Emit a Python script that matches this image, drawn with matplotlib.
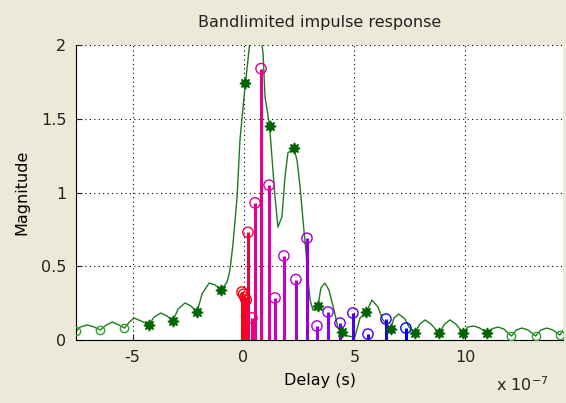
import matplotlib
matplotlib.use("Agg")
import matplotlib.pyplot as plt

# delay in units of 1e-7 s
curve_t = [-7.545, -7.36, -7.05, -6.73, -6.455, -6.20, -5.92, -5.65, -5.365, -5.15,
           -4.93, -4.62, -4.275, -4.03, -3.72, -3.45, -3.185, -2.95, -2.64, -2.37,
           -2.095, -1.87, -1.55, -1.28, -1.005, -0.74, -0.61, -0.47, -0.29, -0.16,
           -0.02, 0.085, 0.20, 0.28, 0.52, 0.83, 0.88, 0.97, 1.175, 1.28,
           1.42, 1.55, 1.73, 1.87, 2.00, 2.265, 2.41, 2.55, 2.68, 2.82,
           2.91, 3.00, 3.13, 3.355, 3.49, 3.67, 3.85, 4.08, 4.26, 4.445,
           4.70, 5.02, 5.25, 5.535, 5.79, 6.06, 6.28, 6.625, 6.78, 7.00,
           7.28, 7.46, 7.715, 7.95, 8.18, 8.45, 8.805, 9.07, 9.30, 9.57,
           9.895, 10.11, 10.38, 10.65, 10.985, 11.19, 11.46, 11.73, 12.075, 12.30,
           12.55, 12.82, 13.165, 13.40, 13.67, 13.94, 14.255, 14.45]
curve_y = [0.061, 0.088, 0.102, 0.088, 0.068, 0.100, 0.122, 0.105, 0.081, 0.121,
           0.149, 0.129, 0.102, 0.156, 0.183, 0.163, 0.129, 0.210, 0.251, 0.231,
           0.190, 0.312, 0.386, 0.373, 0.339, 0.393, 0.475, 0.658, 0.969, 1.356,
           1.58, 1.742, 1.898, 2.014, 2.16, 2.00, 1.946, 1.647, 1.451, 1.241,
           0.969, 0.766, 0.834, 1.105, 1.268, 1.302, 1.220, 1.037, 0.814, 0.590,
           0.407, 0.271, 0.203, 0.231, 0.353, 0.386, 0.339, 0.203, 0.081, 0.054,
           0.027, 0.020, 0.149, 0.190, 0.271, 0.224, 0.136, 0.075, 0.149, 0.176,
           0.142, 0.088, 0.047, 0.108, 0.136, 0.108, 0.047, 0.108, 0.136, 0.108,
           0.047, 0.088, 0.095, 0.081, 0.047, 0.075, 0.088, 0.075, 0.027, 0.068,
           0.081, 0.068, 0.027, 0.068, 0.081, 0.068, 0.034, 0.075]

# samples on the curve
sample_t = [-7.545, -6.455, -5.365, -4.275, -3.185, -2.095, -1.005, 0.085, 1.175, 2.265,
            3.355, 4.445, 5.535, 6.625, 7.715, 8.805, 9.895, 10.985, 12.075, 13.165, 14.255]
sample_y = [0.061, 0.068, 0.081, 0.102, 0.129, 0.190, 0.339, 1.742, 1.451, 1.302,
            0.231, 0.054, 0.190, 0.075, 0.047, 0.047, 0.047, 0.047, 0.027, 0.027, 0.034]
inside = [False, False, False] + [True] * 15 + [False, False, False]

# impulse response taps
stem_t = [-0.07, 0.0, 0.06, 0.12, 0.20, 0.38, 0.52, 0.79, 1.15, 1.42,
          1.82, 2.36, 2.86, 3.31, 3.81, 4.35, 4.93, 5.61, 6.42, 7.32]
stem_y = [0.325, 0.31, 0.29, 0.27, 0.73, 0.15, 0.93, 1.84, 1.05, 0.285,
          0.57, 0.41, 0.69, 0.095, 0.19, 0.115, 0.183, 0.04, 0.142, 0.081]
stem_c = ['#ff0000', '#ff0010', '#fa0020', '#f50030', '#f00040', '#eb0070', '#e6008c', '#e1008f', '#dc00a0', '#d200b4',
          '#c800c8', '#b400d2', '#9600d2', '#a000e6', '#8c00f0', '#7800f0', '#5000e6', '#3c00f0', '#1e00f0', '#0000ff']

ticks_x = [-5, 0, 5, 10]
ticks_y = [0, 0.5, 1, 1.5, 2]

plt.rcParams['font.family'] = ['DejaVu Sans']
plt.rcParams['font.size'] = 11.5
plt.rcParams['text.color'] = '#222222'

fig = plt.figure(figsize=(5.66, 4.03), dpi=100, facecolor='#ece9d8')
ax = fig.add_axes([0.1343, 0.1563, 0.8604, 0.732])
ax.set_facecolor('white')

green = '#1e7a1e'
ax.plot(curve_t, curve_y, color=green, lw=1.0, zorder=2)
ax.vlines(stem_t, 0, stem_y, colors=stem_c, lw=2.2, zorder=3)
ax.scatter(stem_t, stem_y, s=55, facecolors='none', edgecolors=stem_c, lw=1.0, zorder=4)

for t, y, ins in zip(sample_t, sample_y, inside):
    if ins:
        ax.plot(t, y, marker=(8, 1, 0), color='#006400', ms=8, zorder=5)
    else:
        ax.plot(t, y, marker='o', mfc='none', mec='#2ca02c', ms=6, mew=1.0, zorder=5)

ax.set_xlim(-7.55, 14.4)
ax.set_ylim(0, 2)
ax.set_xticks(ticks_x)
ax.set_xticklabels([str(v) for v in ticks_x])
ax.set_yticks(ticks_y)
ax.set_yticklabels(['0', '0.5', '1', '1.5', '2'])
ax.tick_params(direction='in', length=4, width=0.8, pad=7, colors='#222222')
ax.grid(True, color='black', linestyle=(0, (1, 3)), lw=0.8)
ax.spines['top'].set_visible(False)
ax.spines['right'].set_visible(False)
ax.set_title('Bandlimited impulse response', fontsize=11.5, pad=13)
ax.set_xlabel('Delay (s)', labelpad=6)
ax.set_ylabel('Magnitude', labelpad=8)
fig.text(0.877, 0.03, r'x 10$^{-7}$', fontsize=11.5)

fig.savefig('out.png', dpi=100, facecolor=fig.get_facecolor())
